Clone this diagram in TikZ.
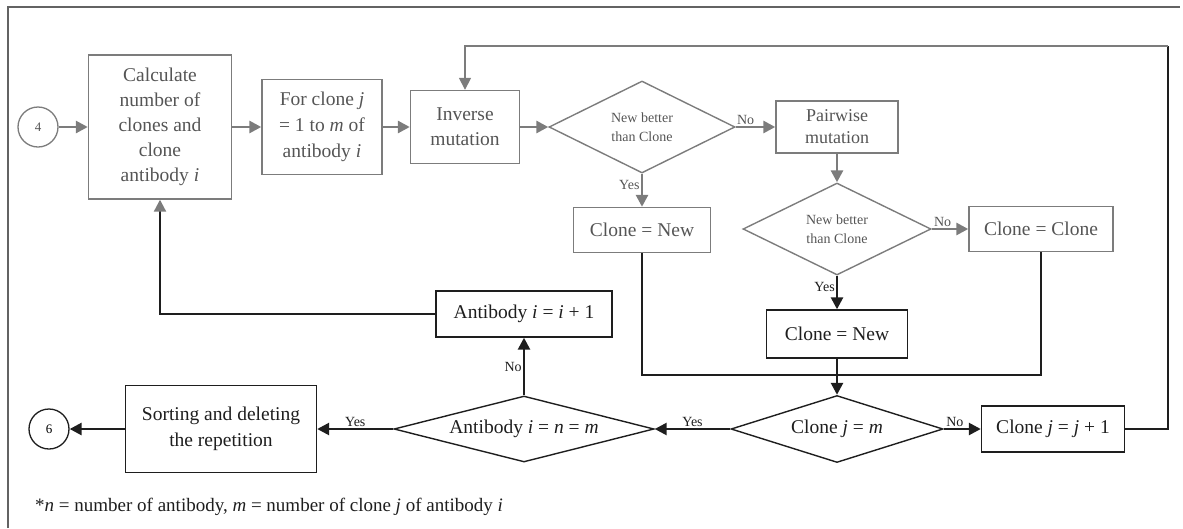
\documentclass[tikz,border=0pt]{standalone}
\usepackage{fontspec}
\setmainfont{Liberation Serif}
\usetikzlibrary{shapes.geometric,arrows.meta}
\definecolor{lgray}{HTML}{7C7C7C}
\definecolor{tgray}{HTML}{555555}
\definecolor{ink}{HTML}{1E1E1E}
\begin{document}
\begin{tikzpicture}[x=1pt,y=-1pt,
  big/.style={font=\fontsize{19.5}{25}\selectfont},
  gbox/.style={rectangle,draw=lgray,line width=1.4pt,text=tgray,align=center,inner sep=0pt,big},
  bbox/.style={rectangle,draw=ink,line width=1.4pt,text=ink,align=center,inner sep=0pt,big},
  gdia/.style={diamond,draw=lgray,line width=1.4pt,text=tgray,align=center,inner sep=0pt,
    font=\fontsize{14}{19}\selectfont},
  bdia/.style={diamond,draw=ink,line width=1.4pt,text=ink,align=center,inner sep=0pt,big},
  term/.style={circle,draw=ink,line width=1.3pt,minimum size=40pt,inner sep=0pt,
    font=\fontsize{13}{15}\selectfont},
  tip/.style={-{Triangle[width=12pt,length=12pt]}},
  garr/.style={draw=lgray,line width=2.8pt,tip},
  barr/.style={draw=ink,line width=2.6pt,tip},
  bline/.style={draw=ink,line width=1.6pt},
  lab/.style={font=\fontsize{14}{16}\selectfont,inner sep=1pt}
]
\useasboundingbox (0,0) rectangle (1183,528);
% outer frame
\draw[lgray!80!black,line width=1.2pt] (8,528) -- (8,7) -- (1180,7);

% upper part: mutation steps
\node[term,draw=lgray,text=tgray] (c4) at (38,127) {4};
\node[gbox,minimum width=143pt,minimum height=144pt] (calc) at (160,127)
  {Calculate\\number of\\clones and\\clone\\antibody \textit{i}};
\node[gbox,minimum width=120pt,minimum height=95pt,font=\fontsize{19.5}{26}\selectfont] (forc) at (322,127)
  {For clone \textit{j}\\= 1 to \textit{m} of\\antibody \textit{i}};
\node[gbox,minimum width=109pt,minimum height=73pt] (inv) at (465,127)
  {Inverse\\mutation};
\node[gdia,shape aspect=2.02,minimum width=186pt,minimum height=92pt] (d1) at (642,127)
  {New better\\than Clone};
\node[gbox,minimum width=122pt,minimum height=52pt,font=\fontsize{18}{22}\selectfont] (pair) at (837,127)
  {Pairwise\\mutation};
\node[gdia,shape aspect=2.04,minimum width=188pt,minimum height=92pt] (d2) at (837,229)
  {New better\\than Clone};
\node[gbox,minimum width=137pt,minimum height=45pt] (cn1) at (642,230) {Clone = New};
\node[gbox,minimum width=144pt,minimum height=45pt] (cc) at (1041,229) {Clone = Clone};

% lower part: loop control
\node[bbox,minimum width=141pt,minimum height=48pt] (cn2) at (837,334) {Clone = New};
\node[bdia,shape aspect=3.16,minimum width=212pt,minimum height=67pt] (d3) at (837,429)
  {Clone \textit{j} = \textit{m}};
\node[bbox,minimum width=143pt,minimum height=46pt] (cj) at (1053,429)
  {Clone \textit{j} = \textit{j} + 1};
\node[bdia,shape aspect=3.94,minimum width=260pt,minimum height=66pt] (ab) at (524,429)
  {Antibody \textit{i} = \textit{n} = \textit{m}};
\node[bbox,minimum width=176pt,minimum height=46pt] (abi) at (524,314)
  {Antibody \textit{i} = \textit{i} + 1};
\node[bbox,minimum width=191pt,minimum height=87pt,font=\fontsize{19.5}{26}\selectfont] (sort) at (221,429)
  {Sorting and deleting\\the repetition};
\node[term] (c6) at (49,429) {6};

\coordinate (mrg) at (837,375);
\coordinate (rt) at (1168,46);

% connectors
\draw[garr] (c4) -- (calc);
\draw[garr] (calc) -- (forc);
\draw[garr] (forc) -- (inv);
\draw[garr] (inv) -- (d1.west);
\draw[garr] (d1.east) -- node[lab,above,text=tgray,pos=0.25] {No} (pair.west);
\draw[garr] (d1.south) -- node[lab,left,text=tgray,pos=0.35] {Yes} (cn1.north);
\draw[garr] (pair.south) -- (d2.north);
\draw[garr] (d2.east) -- node[lab,above,text=tgray,pos=0.3] {No} (cc.west);
\draw[barr] (d2.south) -- node[lab,left,text=ink,pos=0.35] {Yes} (cn2.north);
\draw[bline] (cn1.south) |- (mrg) -| (cc.south);
\draw[barr] (cn2.south) -- (d3.north);
\draw[barr] (d3.east) -- node[lab,above,text=ink,pos=0.3] {No} (cj.west);
\draw[bline] (cj.east) -| (rt);
\draw[draw=lgray,line width=1.6pt,-{Triangle[width=12pt,length=12pt,color=lgray]}] (rt) -| (inv.north);
\draw[barr] (d3.west) -- node[lab,above,text=ink,pos=0.5] {Yes} (ab.east);
\draw[barr] (ab.north) -- node[lab,left,text=ink] {No} (abi.south);
\draw[draw=ink,line width=2.2pt,-{Triangle[width=12pt,length=12pt,color=lgray]}] (abi.west) -| (calc.south);
\draw[barr] (ab.west) -- node[lab,above,text=ink,pos=0.5] {Yes} (sort.east);
\draw[barr] (sort.west) -- (c6.east);

% footnote
\node[anchor=west,inner sep=0pt,font=\fontsize{19}{22}\selectfont,text=ink] (note) at (35,507)
  {*\textit{n} = number of antibody, \textit{m} = number of clone \textit{j} of antibody \textit{i}};
\end{tikzpicture}
\end{document}
